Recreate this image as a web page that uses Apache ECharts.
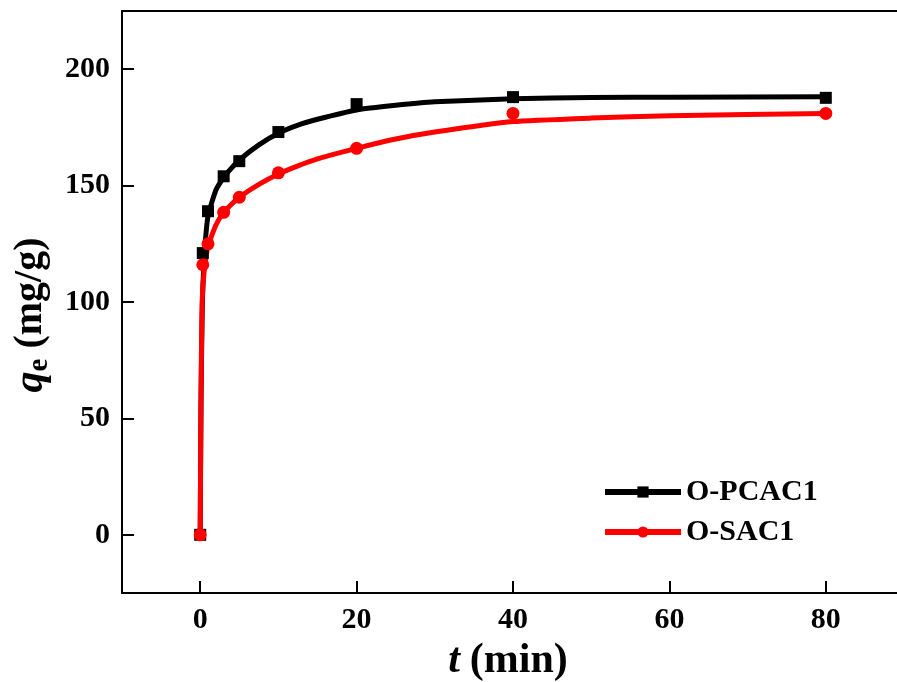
<!DOCTYPE html>
<html>
<head>
<meta charset="utf-8">
<script src="https://cdn.jsdelivr.net/npm/echarts@6/dist/echarts.min.js"></script>
<style>
  html, body { margin: 0; padding: 0; background: #fff; }
  #chart { width: 897px; height: 682px; }
</style>
</head>
<body>
<div id="chart"></div>
<script>
// measured points: adsorption time (min) and uptake q_e (mg/g)
var times = [0, 0.33, 1, 3, 5, 10, 20, 40, 80];
var pcacValues = [0, 121, 139, 154, 160.5, 173, 185, 188, 187.7];
var sacValues = [0, 116, 125, 138.5, 145, 155.5, 166, 181, 181];

// fitted curves
var fitTimes = [0, 0.1, 0.25, 0.5, 1, 2, 3, 4, 5, 7.5, 10, 12.5, 15, 20, 25, 30, 40, 50, 60, 80];
var pcacFit = [0, 55, 95, 118, 137, 148, 153.5, 157.5, 161, 167.5, 172.5, 176, 178.5, 182.5, 184.5, 186, 187.3, 187.8, 188, 188.2];
var sacFit = [0, 60, 100, 113, 124, 133, 138.5, 142, 145, 150.5, 155, 158.5, 161.5, 166, 170, 173, 177.5, 179, 180, 181];

var xTicks = [0, 20, 40, 60, 80];
var yTicks = [0, 50, 100, 150, 200];

function pairs(ts, vals) {
  return ts.map(function (t, i) { return [t, vals[i]]; });
}

var font = 'Liberation Serif, Times New Roman, serif';
var chart = echarts.init(document.getElementById('chart'));

var option = {
  backgroundColor: '#fff',
  animation: false,
  textStyle: { fontFamily: font },
  grid: { left: 122, top: 11, bottom: 89, right: -7, containLabel: false, outerBoundsMode: 'none' },
  legend: {
    left: 602,
    top: 477,
    padding: 0,
    orient: 'vertical',
    itemWidth: 76,
    itemHeight: 14,
    itemGap: 10,
    lineStyle: { width: 6 },
    textStyle: { fontFamily: font, fontSize: 30, fontWeight: 'bold', color: '#000' },
    data: ['O-PCAC1', 'O-SAC1']
  },
  xAxis: [{
    type: 'value',
    min: -10,
    max: 90,
    position: 'bottom',
    splitLine: { show: false },
    axisLine: { onZero: false, lineStyle: { color: '#000', width: 2 } },
    axisTick: { inside: true, length: 12, lineStyle: { color: '#000', width: 2 }, customValues: xTicks },
    axisLabel: { fontFamily: font, fontSize: 30, fontWeight: 'bold', color: '#000', margin: 12, customValues: xTicks },
    name: '{i|t}{b|(min)}',
    nameLocation: 'middle',
    nameGap: 40,
    nameTextStyle: {
      padding: [0, 10, 0, 0],
      rich: {
        i: { fontFamily: font, fontSize: 42, fontWeight: 'bold', fontStyle: 'italic', color: '#000' },
        b: { fontFamily: font, fontSize: 42, fontWeight: 'bold', color: '#000', padding: [0, 0, 0, 10] }
      }
    }
  }, {
    type: 'value',
    min: -10,
    max: 90,
    position: 'top',
    splitLine: { show: false },
    axisLine: { onZero: false, lineStyle: { color: '#000', width: 2 } },
    axisTick: { show: false },
    axisLabel: { show: false }
  }],
  yAxis: {
    type: 'value',
    min: -25,
    max: 225,
    splitLine: { show: false },
    axisLine: { show: true, onZero: false, lineStyle: { color: '#000', width: 2 } },
    axisTick: { show: true, inside: true, length: 12, lineStyle: { color: '#000', width: 2 }, customValues: yTicks },
    axisLabel: { fontFamily: font, fontSize: 30, fontWeight: 'bold', color: '#000', margin: 12, customValues: yTicks },
    name: '{q|q}{e|e}{b|(mg/g)}',
    nameLocation: 'middle',
    nameGap: 62,
    nameTextStyle: {
      padding: [0, 26, 0, 0],
      rich: {
        q: { fontFamily: font, fontSize: 42, fontWeight: 'bold', fontStyle: 'italic', color: '#000' },
        e: { fontFamily: font, fontSize: 29, fontWeight: 'bold', color: '#000', padding: [17, 0, 0, 0] },
        b: { fontFamily: font, fontSize: 40, fontWeight: 'bold', color: '#000', padding: [0, 0, 0, 10] }
      }
    }
  },
  series: [{
    name: 'O-PCAC1',
    type: 'line',
    data: pairs(fitTimes, pcacFit),
    smooth: 0.15,
    showSymbol: false,
    symbol: 'rect',
    symbolSize: 12,
    itemStyle: { color: '#000' },
    lineStyle: { color: '#000', width: 5, join: 'round' },
    z: 2
  }, {
    name: 'O-SAC1',
    type: 'line',
    data: pairs(fitTimes, sacFit),
    smooth: 0.15,
    showSymbol: false,
    symbol: 'circle',
    symbolSize: 13,
    itemStyle: { color: '#ff0000' },
    lineStyle: { color: '#ff0000', width: 5, join: 'round' },
    z: 3
  }, {
    name: 'O-PCAC1',
    type: 'scatter',
    data: pairs(times, pcacValues),
    symbol: 'rect',
    symbolSize: 12,
    itemStyle: { color: '#000', opacity: 1 },
    z: 4
  }, {
    name: 'O-SAC1',
    type: 'scatter',
    data: pairs(times, sacValues),
    symbol: 'circle',
    symbolSize: 13,
    itemStyle: { color: '#ff0000', opacity: 1 },
    z: 5
  }]
};

chart.setOption(option);
window.addEventListener('resize', function () { chart.resize(); });
</script>
</body>
</html>
